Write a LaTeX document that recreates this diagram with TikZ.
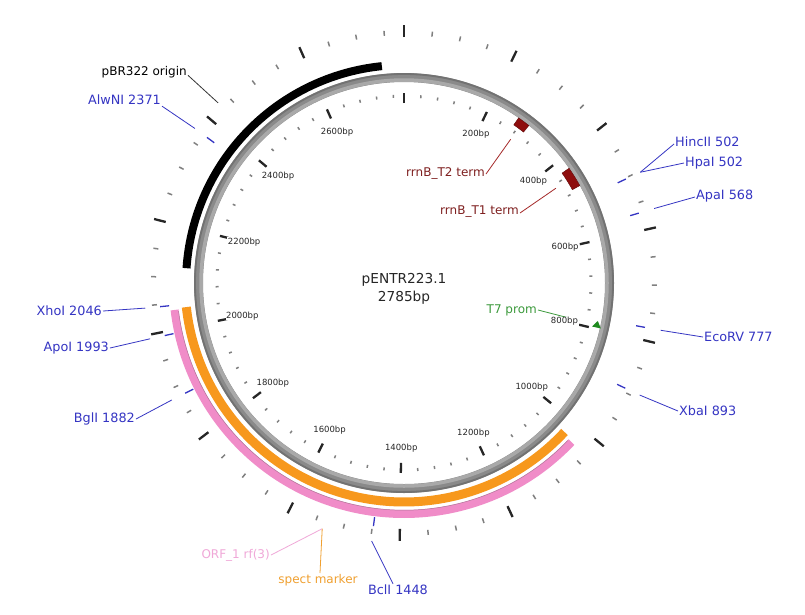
\documentclass[tikz,border=0pt]{standalone}
\usepackage{fontspec}
\setmainfont{DejaVu Sans}
\usetikzlibrary{calc}
\definecolor{sitecol}{HTML}{3535C3}
\definecolor{rrntext}{HTML}{7F2020}
\definecolor{rrnline}{HTML}{A52A2A}
\definecolor{rrnfill}{HTML}{8E0E0E}
\definecolor{t7col}{HTML}{1E8A1E}
\definecolor{t7text}{HTML}{3C9A3C}
\definecolor{orfcol}{HTML}{F08CC8}
\definecolor{orfedge}{HTML}{B07898}
\definecolor{orftext}{HTML}{F0A8D8}
\definecolor{spectcol}{HTML}{F7981D}
\definecolor{specttext}{HTML}{F0A030}
\definecolor{ringgray}{HTML}{8A8A8A}
\definecolor{ringlight}{HTML}{A9A9A9}
\definecolor{ringdark}{HTML}{727272}
\definecolor{ticklight}{HTML}{808080}
\newcommand{\ang}[1]{90-(#1)*0.129264}
\begin{document}
\begin{tikzpicture}[x=1pt,y=1pt,
  sitelbl/.style={text=sitecol,font=\fontsize{12.8}{14}\selectfont,inner sep=1pt},
  sitelead/.style={draw=sitecol,line width=0.8pt},
  sitemark/.style={draw=sitecol,line width=1.3pt},
  featlbl/.style={font=\fontsize{12}{14}\selectfont,inner sep=1pt},
  minortick/.style={draw=ticklight,line width=1.5pt},
  majortick/.style={draw=black!85,line width=2.3pt},
  ticklbl/.style={font=\fontsize{8.5}{10}\selectfont,text=black!85,fill=white,inner sep=0.5pt},
]
\useasboundingbox (0,0) rectangle (805,-614);
\fill[white] (0,0) rectangle (805,-614);
\coordinate (c) at (404,-283);

\begin{scope}[shift={(c)}]
  % backbone ring (shaded tube look)
  \draw[ringgray,line width=9pt] (0,0) circle[radius=205.5pt];
  \draw[ringlight,line width=3.5pt] (0,0) circle[radius=203pt];
  \draw[ringdark,line width=1.8pt] (0,0) circle[radius=209pt];
  % outer feature bands
  \draw[black,line width=8pt] ({\ang{2119}}:218) arc[start angle={\ang{2119}}, end angle={\ang{2740}}, radius=218pt];
  \draw[spectcol,line width=9pt] ({\ang{1028}}:219) arc[start angle={\ang{1028}}, end angle={\ang{2040}}, radius=219pt];
  \draw[orfcol,line width=8pt] ({\ang{1033}}:231) arc[start angle={\ang{1033}}, end angle={\ang{2037}}, radius=231pt];
  \draw[orfedge,line width=0.5pt] ({\ang{1036}}:227.2) arc[start angle={\ang{1036}}, end angle={\ang{2034}}, radius=227.2pt];
  % inner features
  \filldraw[fill=rrnfill,draw=rrnfill!70!black,line width=0.4pt]
    ({\ang{269}}:192.5) arc[start angle={\ang{269}}, end angle={\ang{297}}, radius=192.5pt]
    -- ({\ang{297}}:201) arc[start angle={\ang{297}}, end angle={\ang{269}}, radius=201pt] -- cycle;
  \filldraw[fill=rrnfill,draw=rrnfill!70!black,line width=0.4pt]
    ({\ang{427}}:192.5) arc[start angle={\ang{427}}, end angle={\ang{472}}, radius=192.5pt]
    -- ({\ang{472}}:201) arc[start angle={\ang{472}}, end angle={\ang{427}}, radius=201pt] -- cycle;
  \fill[t7col] ({\ang{797}}:193) -- ({\ang{797}}:202) -- ({\ang{782}}:197.5) -- cycle;
  % tick rings
  \foreach \p in {0,40,...,2760} \draw[minortick] ({\ang{\p}}:185.5) -- ({\ang{\p}}:188.5);
  \foreach \p in {0,200,...,2600} \draw[majortick] ({\ang{\p}}:180) -- ({\ang{\p}}:190);
  \foreach \p in {0,50,...,2750} \draw[minortick] ({\ang{\p}}:248) -- ({\ang{\p}}:253);
  \foreach \p in {0,200,...,2600} \draw[majortick] ({\ang{\p}}:246) -- ({\ang{\p}}:258);
  % restriction site marks
  \foreach \p in {502,568,777,893,1448,1882,1993,2046,2371} \draw[sitemark] ({\ang{\p}}:236) -- ({\ang{\p}}:245);
  % leader end points
  \coordinate (sHinc) at ({\ang{502}}:261);
  \coordinate (sApa) at ({\ang{568}}:261);
  \coordinate (sEco) at ({\ang{777}}:261);
  \coordinate (sXba) at ({\ang{893}}:261);
  \coordinate (sBcl) at ({\ang{1448}}:260);
  \coordinate (sBgl) at ({\ang{1882}}:260);
  \coordinate (sApo) at ({\ang{1993}}:260);
  \coordinate (sXho) at ({\ang{2046}}:260);
  \coordinate (sAlw) at ({\ang{2371}}:260);
  \coordinate (fPbr) at ({\ang{2430}}:259);
  \coordinate (fOrf) at ({\ang{1535}}:259);
  \coordinate (fT2) at ({\ang{283}}:179);
  \coordinate (fT1) at ({\ang{449}}:179);
  \coordinate (fT7) at ({\ang{790}}:179);
\end{scope}

% centre title
\node[font=\fontsize{13.7}{16}\selectfont,text=black!85,inner sep=0pt] (title) at (404,-280) {pENTR223.1};
\node[font=\fontsize{13.7}{16}\selectfont,text=black!85,inner sep=0pt] (size) at (404,-298) {2785bp};

% site labels
\node[sitelbl,anchor=west] (hinc) at (674,-142) {HincII 502};
\node[sitelbl,anchor=west] (hpa) at (684,-163) {HpaI 502};
\node[sitelbl,anchor=west] (apa) at (695,-196) {ApaI 568};
\node[sitelbl,anchor=west] (eco) at (703,-337) {EcoRV 777};
\node[sitelbl,anchor=west] (xba) at (678,-411) {XbaI 893};
\node[sitelbl] (bcl) at (398,-590) {BclI 1448};
\node[sitelbl,anchor=east] (bgl) at (136,-419) {BglI 1882};
\node[sitelbl,anchor=east] (apo) at (110,-348) {ApoI 1993};
\node[sitelbl,anchor=east] (xho) at (103,-311) {XhoI 2046};
\node[sitelbl,anchor=east] (alw) at (162,-100) {AlwNI 2371};

\draw[sitelead] ([yshift=-2pt]hinc.west) -- (sHinc);
\draw[sitelead] (hpa.west) -- (sHinc);
\draw[sitelead] ([yshift=-1pt]apa.west) -- (sApa);
\draw[sitelead] (eco.west) -- (sEco);
\draw[sitelead] (xba.west) -- (sXba);
\draw[sitelead] ([xshift=-5pt]bcl.north) -- (sBcl);
\draw[sitelead] (bgl.east) -- (sBgl);
\draw[sitelead] (apo.east) -- (sApo);
\draw[sitelead] (xho.east) -- (sXho);
\draw[sitelead] (alw.south east) -- (sAlw);

% feature labels
\node[featlbl,anchor=east,text=black] (pbr) at (188,-72) {pBR322 origin};
\draw[black!80,line width=0.8pt] (pbr.base east) -- (fPbr);
\node[featlbl,anchor=east,text=rrntext] (t2) at (486,-173) {rrnB\_T2 term};
\draw[rrnline,line width=0.8pt] ([yshift=-1pt]t2.east) -- (fT2);
\node[featlbl,anchor=east,text=rrntext] (t1) at (520,-212) {rrnB\_T1 term};
\draw[rrnline,line width=0.8pt] ([yshift=-1pt]t1.east) -- (fT1);
\node[featlbl,anchor=east,text=t7text] (t7) at (538,-310) {T7 prom};
\draw[t7text,line width=0.8pt] (t7.east) -- (fT7);
\node[featlbl,anchor=east,text=orftext] (orf) at (271,-555) {ORF\_1 rf(3)};
\draw[orftext,line width=0.8pt] (orf.east) -- (fOrf);
\node[featlbl,text=specttext] (spect) at (318,-580) {spect marker};
\draw[specttext,line width=0.8pt] ([xshift=2pt]spect.north) -- (fOrf);

% tick labels (drawn last, white backing over leaders)
\begin{scope}[shift={(c)}]
  \foreach \p in {200,400,...,2600} \node[ticklbl] (tl\p) at ({\ang{\p}}:165) {\p bp};
\end{scope}
\end{tikzpicture}
\end{document}
